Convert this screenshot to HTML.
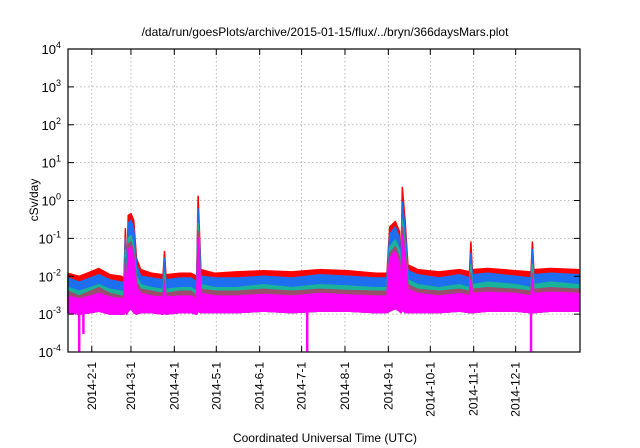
<!DOCTYPE html>
<html><head><meta charset="utf-8">
<style>
html,body{margin:0;padding:0;background:#fff;}
svg{display:block;font-family:"Liberation Sans",sans-serif;}
</style></head>
<body>
<svg id="chart" width="640" height="448" viewBox="0 0 640 448">
<text x="325" y="36" font-size="12" text-anchor="middle">/data/run/goesPlots/archive/2015-01-15/flux/../bryn/366daysMars.plot</text>
<text x="325" y="442" font-size="12" text-anchor="middle">Coordinated Universal Time (UTC)</text>
<text transform="translate(38,200) rotate(-90)" font-size="12" text-anchor="middle">cSv/day</text>
<g id="grid"></g>
<g id="series"></g>
<g id="axes"></g>
</svg>
<script>
// Data (day offsets from 2014-01-15, values in cSv/day)
const days =    [0,8,16,22,30,38,40,41,42,43,45,47,49,52,60,68,69,70,80,88,92,93,95,105,120,140,160,180,200,220,228,230,234,237,238,239,241,243,250,265,280,287,288,289,300,320,331,332,333,345,365];
const redTop =  [0.012,0.010,0.013,0.016,0.011,0.010,0.009,0.18,0.009,0.40,0.45,0.30,0.03,0.015,0.012,0.011,0.045,0.011,0.012,0.012,0.010,1.3,0.015,0.012,0.013,0.014,0.013,0.015,0.014,0.012,0.012,0.20,0.28,0.15,0.012,2.2,0.30,0.02,0.015,0.013,0.015,0.013,0.08,0.015,0.016,0.014,0.013,0.08,0.015,0.016,0.015];
const blueTop = [0.009,0.007,0.009,0.011,0.008,0.007,0.007,0.10,0.007,0.25,0.30,0.18,0.02,0.010,0.009,0.008,0.030,0.008,0.009,0.009,0.007,0.6,0.010,0.009,0.009,0.010,0.009,0.011,0.010,0.009,0.009,0.13,0.20,0.10,0.009,0.9,0.18,0.014,0.011,0.009,0.011,0.009,0.04,0.011,0.012,0.010,0.009,0.05,0.011,0.012,0.011];
const greenTop =[0.005,0.004,0.005,0.006,0.0045,0.004,0.004,0.05,0.004,0.10,0.12,0.06,0.010,0.006,0.005,0.0045,0.012,0.0045,0.005,0.005,0.004,0.25,0.006,0.005,0.005,0.006,0.005,0.006,0.0055,0.005,0.005,0.06,0.09,0.05,0.005,0.3,0.07,0.008,0.006,0.005,0.006,0.005,0.02,0.006,0.007,0.006,0.005,0.02,0.006,0.007,0.006];
const brownTop =[0.004,0.003,0.004,0.005,0.0035,0.003,0.003,0.03,0.003,0.07,0.08,0.04,0.007,0.0045,0.004,0.0035,0.008,0.0035,0.004,0.004,0.003,0.15,0.0045,0.004,0.004,0.0045,0.004,0.0045,0.0042,0.004,0.004,0.04,0.06,0.03,0.004,0.2,0.05,0.006,0.0045,0.004,0.0045,0.004,0.012,0.0045,0.005,0.0045,0.004,0.012,0.0045,0.005,0.0045];
const magTop =  [0.003,0.0025,0.003,0.0035,0.0028,0.0025,0.0025,0.02,0.0025,0.05,0.06,0.03,0.005,0.0035,0.003,0.0028,0.006,0.0028,0.003,0.003,0.0025,0.10,0.0035,0.003,0.003,0.0033,0.003,0.0035,0.0032,0.003,0.003,0.03,0.045,0.02,0.003,0.12,0.03,0.0045,0.0035,0.003,0.0035,0.003,0.008,0.0035,0.0038,0.0035,0.003,0.008,0.0035,0.0038,0.0035];
const magLow =  [0.0011,0.0010,0.0011,0.0012,0.0010,0.0010,0.0010,0.0012,0.0010,0.0012,0.0014,0.0011,0.0010,0.0011,0.0011,0.0010,0.0011,0.0010,0.0011,0.0011,0.0010,0.0012,0.0011,0.0011,0.0011,0.0012,0.0011,0.0012,0.0012,0.0011,0.0011,0.0012,0.0014,0.0012,0.0011,0.0013,0.0011,0.0011,0.0011,0.0011,0.0012,0.0011,0.0011,0.0011,0.0012,0.0012,0.0011,0.0011,0.0011,0.0012,0.0012];
const dipDays = [8,11,171,331];
const dipVals = [0.0001,0.0003,0.0001,0.0001];
const monthDays = [17,45,76,106,137,167,198,229,259,290,320];
const monthLabels = ["2014-2-1","2014-3-1","2014-4-1","2014-5-1","2014-6-1","2014-7-1","2014-8-1","2014-9-1","2014-10-1","2014-11-1","2014-12-1"];
const yExps = [-4,-3,-2,-1,0,1,2,3,4];

const NS="http://www.w3.org/2000/svg";
const L=68,R=580,T=49,B=352,D0=0,D1=366;
const xs=d=>L+(d-D0)/(D1-D0)*(R-L);
const ys=v=>B-(Math.log10(v)+4)/8*(B-T);
function mk(tag,attrs,parent){const e=document.createElementNS(NS,tag);for(const k in attrs)e.setAttribute(k,attrs[k]);parent.appendChild(e);return e;}
const grid=document.getElementById('grid'),ser=document.getElementById('series'),ax=document.getElementById('axes');

yExps.forEach(e=>{
  const y=ys(Math.pow(10,e));
  if(e>-4&&e<4){const g=mk('line',{x1:L,x2:R,y1:y,y2:y,stroke:'#aaa','stroke-width':0.8,'stroke-dasharray':'1.5,2.5'},grid);
  
  }
  mk('line',{x1:L,x2:L+6,y1:y,y2:y,stroke:'#000'},ax);
  mk('line',{x1:R,x2:R-6,y1:y,y2:y,stroke:'#000'},ax);
  const t=mk('text',{x:L-7,y:y+5,'font-size':13,'text-anchor':'end'},ax);
  
  
  t.textContent='10';
  const s=mk('tspan',{dy:-6,'font-size':9},t);s.textContent=String(e);
});
monthDays.forEach((d,i)=>{
  const x=xs(d);
  const g=mk('line',{x1:x,x2:x,y1:T,y2:B,stroke:'#aaa','stroke-width':0.8,'stroke-dasharray':'1.5,2.5'},grid);
  
  
  mk('line',{x1:x,x2:x,y1:B,y2:B-6,stroke:'#000'},ax);
  mk('line',{x1:x,x2:x,y1:T,y2:T+6,stroke:'#000'},ax);
  const t=mk('text',{transform:`translate(${x+4},${B+10}) rotate(-90)`,'font-size':12,'text-anchor':'end'},ax);
  
  
  t.textContent=monthLabels[i];
});
function band(top,low,color,name){
  let p='M'+days.map((d,i)=>xs(d).toFixed(1)+','+ys(top[i]).toFixed(1)).join('L');
  for(let i=days.length-1;i>=0;i--)p+='L'+xs(days[i]).toFixed(1)+','+ys(low[i]).toFixed(1);
  const e=mk('path',{d:p+'Z',fill:color,stroke:color,'stroke-width':1.5,'stroke-linejoin':'round'},ser);
  
  
}
band(redTop,magLow,'#ff0000','series-red');
band(blueTop,magLow,'#1e6fef','series-blue');
band(greenTop,magLow,'#19b39a','series-green');
band(brownTop,magLow,'#9b4d6e','series-brown');
band(magTop,magLow,'#ff00ff','series-magenta');
dipDays.forEach((d,i)=>{
  const e=mk('line',{x1:xs(d),x2:xs(d),y1:ys(0.0012),y2:ys(dipVals[i]),stroke:'#ff00ff','stroke-width':2.5},ser);
  
  
});
const fr=mk('rect',{x:L,y:T,width:R-L,height:B-T,fill:'none',stroke:'#000','stroke-width':1.2},ax);


</script>
</body></html>
